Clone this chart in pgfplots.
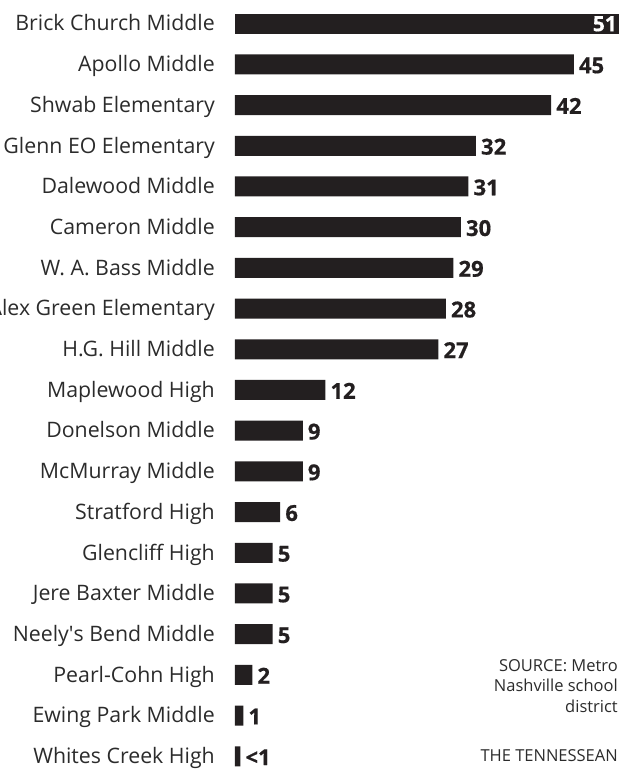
\documentclass[border=0pt]{standalone}
\usepackage{pgfplots}
\pgfplotsset{compat=1.18}
\usepackage{pgfplotstable}
\usepackage{fontspec}
\setmainfont{Open Sans}
\newfontfamily\valfont{Open Sans}[BoldFeatures={FakeBold=0.6}]
\definecolor{barc}{HTML}{231F20}
\definecolor{txt}{HTML}{2B2B2B}

% y: position from bottom (0 = Whites Creek High), x: bar length, lab: printed value
\pgfplotstableread{
y x lab
17 45 45
16 42 42
15 32 32
14 31 31
13 30 30
12 29 29
11 28 28
10 27 27
9 12 12
8 9 9
7 9 9
6 6 6
5 5 5
4 5 5
3 5 5
2 2.3 2
1 1.1 1
0 0.7 <1
}\data

\begin{document}
\begin{tikzpicture}
\useasboundingbox (0,0) rectangle (623pt,771pt);
\clip (0,0) rectangle (623pt,771pt);
\begin{axis}[
  at={(235pt,14.7pt)}, anchor=south west,
  scale only axis, width=384pt, height=732.6pt,
  xmin=0, xmax=51, ymin=0, ymax=18,
  clip=false,
  axis line style={draw=none},
  xtick=\empty,
  ytick={0,...,18},
  major tick length=0pt,
  tick style={draw=none},
  yticklabels={Whites Creek High, Ewing Park Middle, Pearl-Cohn High, Neely\textquotesingle s Bend Middle, Jere Baxter Middle, Glencliff High, Stratford High, McMurray Middle, Donelson Middle, Maplewood High, H.G. Hill Middle, Alex Green Elementary, W. A. Bass Middle, Cameron Middle, Dalewood Middle, Glenn EO Elementary, Shwab Elementary, Apollo Middle, Brick Church Middle},
  yticklabel style={font=\fontsize{21.3}{22}\selectfont, text=txt, inner sep=0pt, anchor=base east, xshift=-20pt, yshift=-7.3pt},
  xbar, bar width=20pt, bar shift=0pt,
  point meta=explicit symbolic,
]
\addplot[fill=barc, draw=none, bar shift=0pt,
  nodes near coords,
  nodes near coords style={font=\valfont\bfseries\fontsize{22}{22}\selectfont, text=barc, inner sep=0pt, anchor=base west, xshift=5pt, yshift=-8.8pt}]
  table[x=x, y=y, meta=lab] {\data};
\addplot[fill=barc, draw=none, bar shift=0pt,
  nodes near coords,
  nodes near coords style={font=\valfont\bfseries\fontsize{21}{21}\selectfont, text=white, inner sep=0pt, anchor=base east, xshift=-2pt, yshift=-7.5pt}]
  coordinates {(51,18) [51]};
\end{axis}
\node[anchor=east, align=right, inner sep=0pt, text=txt, font=\fontsize{16.5}{20.5}\selectfont] at (618pt,85pt) {SOURCE: Metro\\Nashville school\\district};
\node[anchor=east, inner sep=0pt, text=txt, font=\fontsize{16.5}{18}\selectfont] at (618pt,15pt) {THE TENNESSEAN};
\end{tikzpicture}
\end{document}
